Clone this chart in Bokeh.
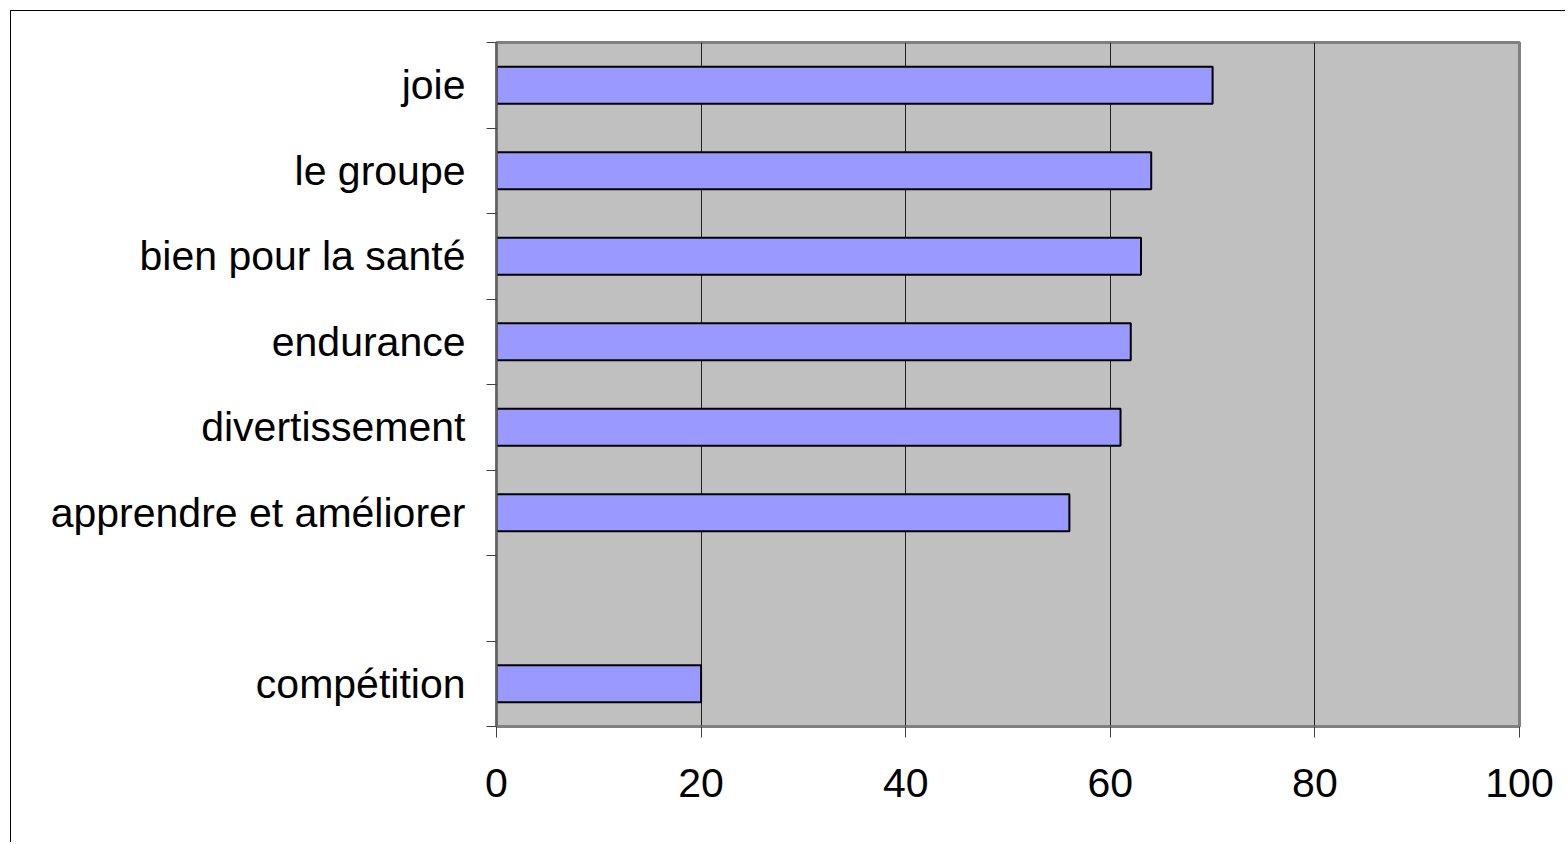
from bokeh.plotting import figure
from bokeh.models import FixedTicker, Range1d
from bokeh.embed import file_html
from bokeh.resources import INLINE

# data (top to bottom); "" is an empty slot
categories = ["joie", "le groupe", "bien pour la santé", "endurance",
              "divertissement", "apprendre et améliorer", "", "compétition"]
values = [70, 64, 63, 62, 61, 56, None, 20]
x_ticks = [0, 20, 40, 60, 80, 100]

n = len(categories)
ys = [n - i - 0.5 for i in range(n)]
bar_y = [y for y, v in zip(ys, values) if v is not None]
bar_v = [v for v in values if v is not None]

FONT = "Liberation Sans"

p = figure(width=1555, height=832, output_backend="svg", toolbar_location=None,
           x_range=Range1d(0, 100), y_range=Range1d(0, n),
           min_border_left=485, min_border_right=47, min_border_top=31,
           min_border_bottom=117)
p.styles = {"border-left": "1px solid black", "border-top": "1px solid black",
            "margin-left": "10px", "margin-top": "10px"}

p.background_fill_color = "#C0C0C0"
p.border_fill_color = "white"
p.outline_line_color = "#808080"
p.outline_line_width = 3

p.hbar(y=bar_y, right=bar_v, left=0, height=0.43,
       fill_color="#9999FF", line_color="black", line_width=2)

# x axis
p.xaxis.ticker = FixedTicker(ticks=x_ticks)
p.xaxis.axis_line_color = "#808080"
p.xaxis.axis_line_width = 2
p.xaxis.major_tick_line_color = "#404040"
p.xaxis.major_tick_out = 11
p.xaxis.major_tick_in = 0
p.xaxis.minor_tick_line_color = None
p.xaxis.major_label_text_font = FONT
p.xaxis.major_label_text_font_size = "41px"
p.xaxis.major_label_text_color = "black"
p.xaxis.major_label_standoff = 31

# y axis: labels at centres, ticks at boundaries (minor ticks)
p.yaxis.ticker = FixedTicker(ticks=ys, minor_ticks=list(range(n + 1)))
p.yaxis.major_label_overrides = {y: c for y, c in zip(ys, categories)}
p.yaxis.major_tick_line_color = None
p.yaxis.major_tick_out = 0
p.yaxis.major_tick_in = 0
p.yaxis.minor_tick_line_color = "#404040"
p.yaxis.minor_tick_out = 10
p.yaxis.minor_tick_in = 0
p.yaxis.axis_line_color = "#606060"
p.yaxis.axis_line_width = 2
p.yaxis.major_label_text_font = FONT
p.yaxis.major_label_text_font_size = "41px"
p.yaxis.major_label_text_color = "black"
p.yaxis.major_label_standoff = 21

p.xgrid.grid_line_color = "#202020"
p.xgrid.grid_line_width = 1
p.ygrid.grid_line_color = None

open("out.html", "w").write(file_html(p, INLINE))
